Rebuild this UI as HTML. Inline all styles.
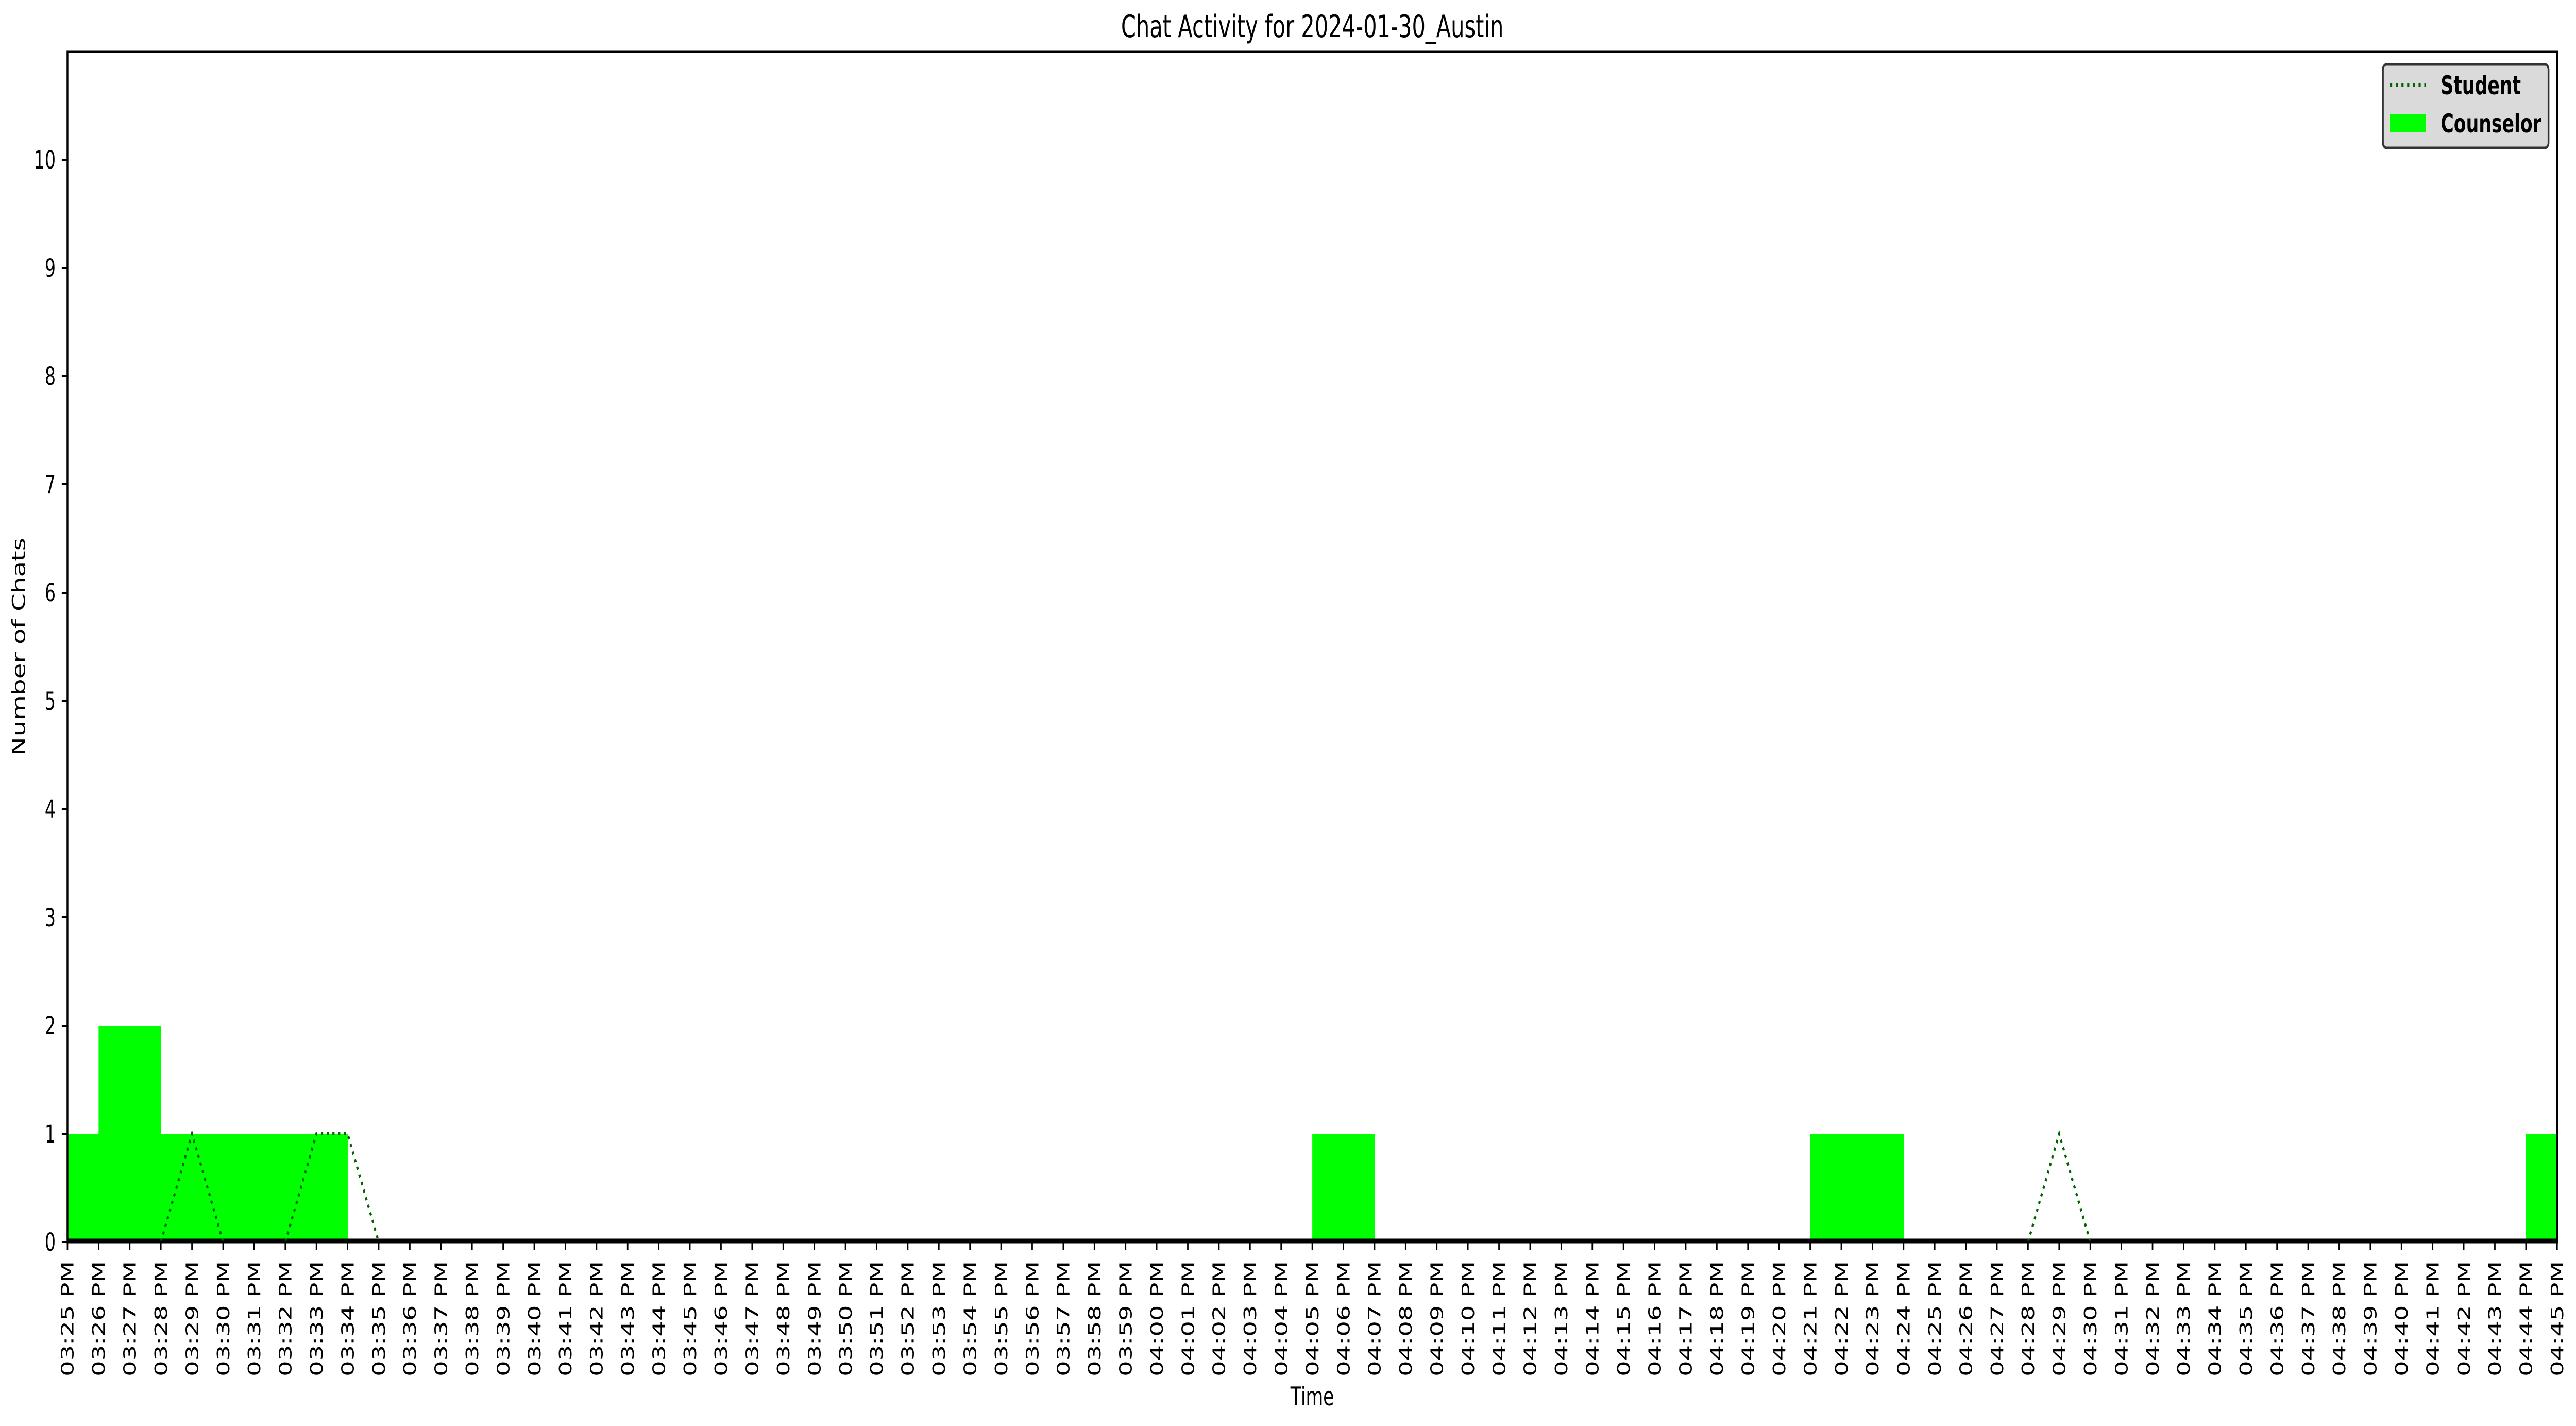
<!DOCTYPE html>
<html><head><meta charset="utf-8">
<style>
html,body{margin:0;padding:0;background:#fff;overflow:hidden;width:100%;height:100%;}
svg{display:block;width:100vw;height:100vh;font-family:"DejaVu Sans","Liberation Sans",sans-serif;}
</style></head>
<body>
<svg id="chart" viewBox="0 0 7216 2767" preserveAspectRatio="none" xmlns="http://www.w3.org/2000/svg">
<rect width="7216" height="2767" fill="#fff"/>
<g id="marks"></g>
<g id="axes"></g>
<text x="3676" y="72" font-size="60" text-anchor="middle">Chat Activity for 2024-01-30_Austin</text>
<text x="3676" y="2727" font-size="50" text-anchor="middle">Time</text>
<text transform="translate(70,1255) rotate(-90)" font-size="50" text-anchor="middle">Number of Chats</text>
<g>
<rect x="6675" y="125" width="464" height="162" rx="10" fill="#dadada" stroke="#333" stroke-width="5"/>
<line x1="6695" y1="165" x2="6795" y2="165" stroke="#006400" stroke-width="6" stroke-dasharray="6,10"/>
<text x="6837" y="183" font-size="50" font-weight="bold">Student</text>
<rect x="6695" y="221" width="100" height="35" fill="#00ff00"/>
<text x="6837" y="257" font-size="50" font-weight="bold">Counselor</text>
</g>
</svg>
<script>
const startMinute = 15*60+25; // 03:25 PM
const minuteCount = 81; // 03:25 .. 04:45
const counselorStarts = [0,1,2,3,4,5,6,7,8,40,41,56,57,58,79];
const counselorValues = [1,2,2,1,1,1,1,1,1,1,1,1,1,1,1];
const studentMinutes = [3,4,5,7,8,9,10,63,64,65];
const studentValues = [0,1,0,0,1,1,0,0,1,0];
const yTicks = [0,1,2,3,4,5,6,7,8,9,10];

const X0=189, X1=7163, Y0=2410, YTOP=100, YMAX=11;
const xs = m => X0 + (X1-X0)*m/(minuteCount-1);
const ys = v => Y0 - (Y0-YTOP)*v/YMAX;
const NS="http://www.w3.org/2000/svg";
const marks=document.getElementById('marks'), axes=document.getElementById('axes');
function mk(tag,attrs,parent){const e=document.createElementNS(NS,tag);for(const k in attrs)e.setAttribute(k,attrs[k]);parent.appendChild(e);return e;}

counselorStarts.forEach((m,i)=>{
  const r=mk('rect',{x:xs(m),y:ys(counselorValues[i]),width:xs(m+1)-xs(m)+0.5,height:Y0-ys(counselorValues[i]),fill:'#00ff00'},marks);
  
  
});
const zl=mk('line',{x1:X0,y1:Y0-3,x2:X1,y2:Y0-3,stroke:'#000','stroke-width':7},marks);


let groups=[],cur=[];
studentMinutes.forEach((m,i)=>{if(cur.length&&m!==studentMinutes[i-1]+1){groups.push(cur);cur=[];}cur.push([m,studentValues[i]]);});
if(cur.length)groups.push(cur);
groups.forEach(g=>{
  const p=mk('polyline',{points:g.map(([m,v])=>xs(m)+','+ys(v)).join(' '),fill:'none',stroke:'#006400','stroke-width':6,'stroke-dasharray':'6,10'},marks);
  
  
});

const frame=mk('rect',{x:X0,y:YTOP,width:X1-X0,height:Y0-YTOP,fill:'none',stroke:'#000','stroke-width':5},axes);



yTicks.forEach(v=>{
  const t=mk('line',{x1:X0-16,y1:ys(v),x2:X0,y2:ys(v),stroke:'#000','stroke-width':4},axes);
  
  
  const l=mk('text',{x:X0-33,y:ys(v)+17,'font-size':48,'text-anchor':'end'},axes);
  l.textContent=v;
  
  
});
for(let m=0;m<minuteCount;m++){
  const x=xs(m);
  const t=mk('line',{x1:x,y1:Y0,x2:x,y2:Y0+16,stroke:'#000','stroke-width':4},axes);
  
  
  const tot=startMinute+m, h=Math.floor(tot/60)%12||12, mm=tot%60;
  const lab=String(h).padStart(2,'0')+':'+String(mm).padStart(2,'0')+' PM';
  const l=mk('text',{transform:`translate(${x+17},2447) rotate(-90)`,'font-size':48,'text-anchor':'end'},axes);
  l.textContent=lab;
  
  
}
</script>
</body></html>
